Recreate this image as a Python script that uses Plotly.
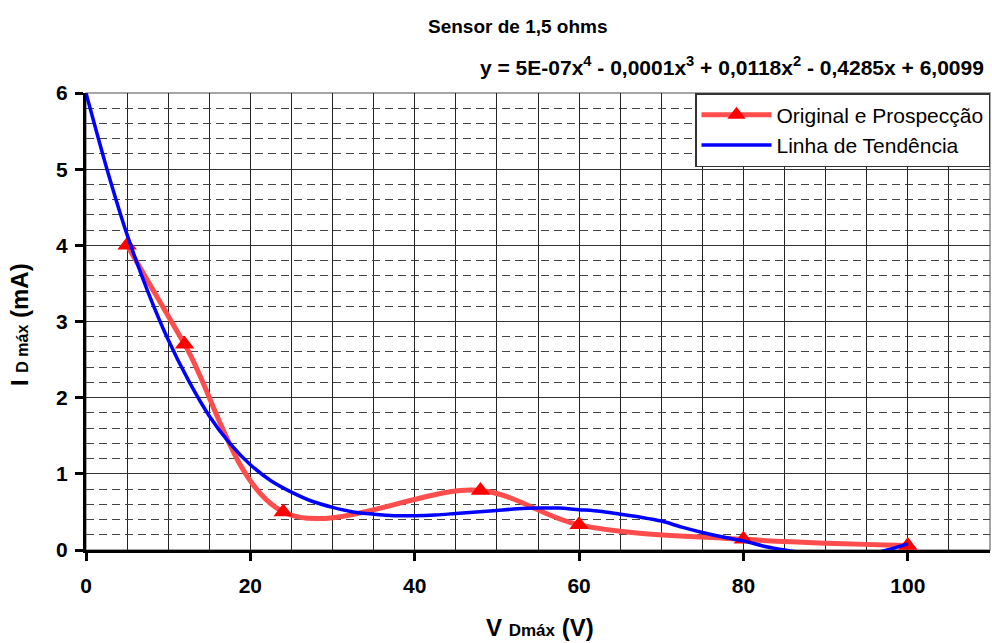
import plotly.graph_objects as go

# ---- data ----
orig_x = [5, 12, 24, 48, 60, 80, 100]
orig_y = [4.0, 2.7, 0.5, 0.78, 0.33, 0.14, 0.06]

trend_x = [0, 2.5, 5, 7.5, 10, 12.5, 15, 17.5, 20, 22.5, 25, 27.5, 30, 32.5, 35,
           37.5, 40, 42.5, 45, 47.5, 50, 52.5, 55, 57.5, 60, 62.5, 65, 67.5, 70,
           72.5, 75, 77.5, 80, 82.5, 85, 87.5, 90, 92.5, 95, 97.5, 100]
trend_y = [6.0, 5.02, 4.14, 3.4, 2.76, 2.22, 1.76, 1.4, 1.12, 0.91, 0.76, 0.64, 0.56,
           0.5, 0.47, 0.45, 0.45, 0.46, 0.48, 0.5, 0.52, 0.54, 0.55, 0.55, 0.53,
           0.51, 0.47, 0.43, 0.38, 0.3, 0.23, 0.17, 0.12, 0.05, 0.0, -0.04, -0.07,
           -0.08, -0.06, 0.0, 0.08]

x_ticks = [0, 20, 40, 60, 80, 100]
y_ticks = [0, 1, 2, 3, 4, 5, 6]

title_text = "Sensor de 1,5 ohms"
equation_text = "y = 5E-07x<sup>4</sup> - 0,0001x<sup>3</sup> + 0,0118x<sup>2</sup> - 0,4285x + 6,0099"
series_names = ["Original e Prospecção", "Linha de Tendência"]

FONT = "Liberation Sans, Arial, sans-serif"
W, H = 992, 643
L, R, T, B = 86, 2, 93, 93
PW, PH = W - L - R, H - T - B


def px(xp):
    return (xp - L) / PW


def py(yp):
    return (H - B - yp) / PH


fig = go.Figure()
fig.add_trace(go.Scatter(
    x=orig_x, y=orig_y, mode="lines+markers", name=series_names[0],
    line=dict(color="#ff4d4d", width=5, shape="spline", smoothing=1),
    marker=dict(symbol="triangle-up", size=17, color="#ff0000"),
    cliponaxis=False))
fig.add_trace(go.Scatter(
    x=trend_x, y=trend_y, mode="lines", name=series_names[1],
    line=dict(color="#0000ff", width=3.5, shape="spline", smoothing=0.8)))

fig.update_layout(
    width=W, height=H,
    margin=dict(l=L, r=R, t=T, b=B, pad=0, autoexpand=False),
    paper_bgcolor="white", plot_bgcolor="white",
    font=dict(family=FONT, color="black"),
    showlegend=True,
    legend=dict(x=1, y=1, xanchor="right", yanchor="top",
                bgcolor="white", bordercolor="#333", borderwidth=1.5,
                font=dict(family=FONT, size=21, color="black"),
                itemwidth=70, tracegroupgap=0),
)

fig.update_xaxes(
    range=[0, 110], tickmode="linear", tick0=0, dtick=20, ticks="outside",
    ticklen=8, tickwidth=3, tickcolor="black", showline=True, linewidth=3,
    linecolor="black", showgrid=True, gridcolor="#222", gridwidth=1, zeroline=False,
    minor=dict(dtick=5, tick0=0, showgrid=True, gridcolor="#222", gridwidth=1, ticks=""),
    tickfont=dict(family=FONT, size=21, color="black", weight="bold"),
    ticklabelstandoff=7, layer="below traces")

fig.update_yaxes(
    range=[0, 6], tickmode="linear", tick0=0, dtick=1, ticks="outside",
    ticklen=8, tickwidth=3, tickcolor="black", showline=True, linewidth=3,
    linecolor="black", showgrid=True, gridcolor="#333", gridwidth=1, zeroline=False,
    minor=dict(dtick=0.2, tick0=0, showgrid=True, gridcolor="#444", gridwidth=1,
               griddash="8px,5px", ticks=""),
    tickfont=dict(family=FONT, size=21, color="black", weight="bold"),
    ticklabelstandoff=3)

# plot-area border (top / right in gray)
fig.add_shape(type="rect", xref="paper", yref="paper", x0=0, x1=1, y0=0, y1=1,
              line=dict(color="#888", width=1.5), layer="below")

fig.add_annotation(text="<b>" + title_text + "</b>", xref="paper", yref="paper",
                   x=px(518), y=py(27), xanchor="center", yanchor="middle",
                   showarrow=False, font=dict(family=FONT, size=19, color="black"))
fig.add_annotation(text="<b>" + equation_text + "</b>", xref="paper", yref="paper",
                   x=px(986), y=py(66), xanchor="right", yanchor="middle",
                   showarrow=False, font=dict(family=FONT, size=21, color="black"))
fig.add_annotation(text="<b>V <span style='font-size:17px'>Dmáx</span> (V)</b>",
                   xref="paper", yref="paper", x=px(540), y=py(627),
                   xanchor="center", yanchor="middle", showarrow=False,
                   font=dict(family=FONT, size=24, color="black"))
fig.add_annotation(text="<b>I <span style='font-size:16px'>D máx</span> (mA)</b>",
                   xref="paper", yref="paper", x=px(19), y=py(325),
                   xanchor="center", yanchor="middle", showarrow=False,
                   textangle=-90, font=dict(family=FONT, size=24, color="black"))

fig.write_html("out.html")
